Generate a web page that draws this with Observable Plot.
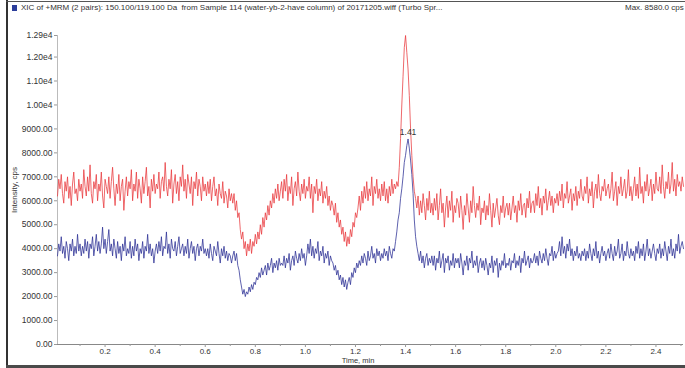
<!DOCTYPE html>
<html>
<head>
<meta charset="utf-8">
<script src="https://cdn.jsdelivr.net/npm/d3@7"></script>
<script src="https://cdn.jsdelivr.net/npm/@observablehq/plot@0.6"></script>
<style>
  body { margin: 0; background: #fff; }
  #wrap { position: relative; width: 685px; height: 368px; overflow: hidden; background: #fff;
          font-family: "Liberation Sans", Arial, sans-serif; color: #333; }
  .abs { position: absolute; white-space: nowrap; }
</style>
</head>
<body>
<div id="wrap">
  <div class="abs" style="left:6px;top:0;width:1.5px;height:368px;background:#333"></div>
  <div class="abs" style="left:6px;top:1px;width:679px;height:1px;background:#555"></div>
  <div class="abs" style="left:6px;top:365px;width:679px;height:3px;background:#4a4a4a"></div>
  <div class="abs" style="left:12px;top:5px;width:5px;height:6px;background:#2c3e9b"></div>
  <div class="abs" id="title" style="left:21px;top:3px;font-size:8px;line-height:10px"></div>
  <div class="abs" id="maxlab" style="left:625px;top:3px;font-size:8px;line-height:10px"></div>
  <div class="abs" id="ylab" style="left:14px;top:190px;font-size:8px;transform:translate(-50%,-50%) rotate(-90deg)"></div>
  <div class="abs" id="xlab" style="left:358px;top:357px;font-size:7.5px;line-height:8px;transform:translateX(-50%)"></div>
  <div id="chart" class="abs" style="left:0;top:0"></div>
</div>
<script>
const titleText = "XIC of +MRM (2 pairs): 150.100/119.100 Da\u00a0\u00a0from Sample 114 (water-yb-2-have column) of 20171205.wiff (Turbo Spr...";
const maxText = "Max. 8580.0 cps";
const yTitle = "Intensity, cps";
const xTitle = "Time, min";

const startTime = 0.01;   // min
const scanStep = 0.005;   // min between points

const redSeries = [
6200,6900,6500,7100,6300,5900,6800,6400,7000,6100,6600,5800,6700,7200,6300,6500,6000,6900,6400,6700,
6100,7300,6600,6200,7000,6400,7500,6300,5900,6800,6500,7100,6000,6700,6400,7200,6200,5700,6900,6600,
6300,7000,6100,6800,7400,6500,5800,6700,6300,7100,6000,6600,6900,5600,6400,7000,6200,6800,6500,7300,
6000,6700,6400,7200,6100,6900,6500,5900,7000,6300,6800,7400,6200,6600,5700,6900,6400,7100,6300,6700,
6500,7200,6100,6800,7000,6400,7600,6600,6200,6900,6500,7300,5900,6700,7100,6300,6800,6000,7000,6600,
7500,6400,6900,6100,7100,6700,6300,7000,5800,6800,6500,7200,6200,6900,6600,6000,7000,6400,6700,6200,
6800,6300,6900,6000,6600,7000,6200,6500,5800,6700,6300,6100,6800,5900,6400,6200,5700,6500,6000,6300,
5900,6300,5600,6000,5300,5500,4800,4400,4700,4000,4300,3700,4200,3900,4400,3800,4300,4100,4600,4200,
4700,4400,5000,4600,5300,4900,5500,5200,5800,5400,6000,5700,6300,5900,6500,6100,6700,6000,6400,6800,
6100,6900,6400,7100,6000,6600,6300,7000,5800,6500,6800,6200,7200,6400,6000,6700,6300,6900,6100,6600,
6400,7000,6100,6700,5500,6600,6300,6900,6000,6500,6200,6800,5900,6400,6100,6600,5800,6200,5600,6000,
5800,5400,5900,5100,5500,4900,5200,4600,4900,4300,4700,4100,4500,4200,4800,4500,5100,4900,5500,5300,
5700,6200,5600,6400,5900,6600,6100,6800,6000,6500,6200,7000,5800,6600,6300,6900,6100,6500,6000,6700,
6200,6800,6000,6500,5900,6600,6200,6900,6300,6700,6500,6800,6600,7400,8600,10000,11200,12400,12900,12200,
11500,10400,9000,7900,7000,6400,6100,5700,6200,5400,6000,5500,6300,5800,5200,6100,5600,6400,5500,5900,
5400,6100,5600,6300,5200,5800,6500,5500,5900,4900,5700,6200,5300,6000,5600,6400,5100,5800,5500,6100,
5900,5300,6200,5600,4800,5800,5400,6300,5700,5100,6000,5500,6600,5800,5300,5900,5600,6200,5000,5700,
5500,6000,5200,5800,5400,6300,5600,4900,5900,5300,5700,6100,5400,5000,5800,5500,6200,5300,5700,5900,
5400,5900,5200,5700,6200,5500,5800,5100,6000,5600,6300,5400,5800,5900,5300,6100,5700,6400,5500,5900,
6000,5500,6300,5800,6600,5700,6100,5400,6200,5900,6500,5600,6000,6400,5800,6200,5500,6100,5900,6300,
5800,6400,6000,6700,5700,6300,6100,6800,5900,6200,6500,5600,6300,6000,6600,5800,6400,6100,6900,6200,
6000,6600,6300,7000,5900,6500,6200,6800,5700,6400,6700,6100,7100,6300,6000,6600,6400,6900,6200,6500,
6700,6100,6500,7200,6000,6400,6800,5800,6600,6300,7000,6200,6500,6900,6100,6400,7300,6200,6600,6000,
6500,7000,6200,6700,6100,7400,6300,6600,5900,6800,6400,7100,6200,6500,6900,6000,6700,6300,7200,6500,
6400,7000,6300,7500,6600,6100,6800,6500,7200,6300,6700,7600,6400,6900,6200,7100,6600,6800,6400,7000,
6600
];

const blueSeries = [
3700,4200,3900,4500,3800,4100,3600,4300,4000,3500,4200,3900,4400,3700,4100,3800,4600,3900,4200,3700,
4100,3800,4400,3900,4300,3600,4200,4000,4500,3700,4100,4600,3900,4300,3800,4200,4900,4000,4400,3800,
4300,4800,3900,4200,3700,4400,4000,3600,4300,3800,4100,3500,4200,3900,4500,3700,4000,3800,4300,3600,
4100,3700,4400,3900,4200,3500,4000,3800,4300,3600,4100,3900,4600,3800,4200,3700,4000,3400,3900,4200,
3800,4300,3900,4500,3700,4100,4000,4700,3800,4200,3600,4400,4000,3900,4300,3700,4100,4500,3800,4000,
4200,3700,4100,3800,4400,3600,4000,4300,3800,4100,3500,4000,4200,3700,4100,3900,4400,3800,4000,3700,
4000,3600,4200,3800,3500,4100,3900,3700,4300,3800,3400,4000,3700,4100,3600,3900,3500,3800,3700,3400,
3700,3900,3500,3800,3300,3100,2700,2400,2100,2300,2000,2200,2100,2400,2200,2500,2300,2600,2500,2800,
2700,3000,2800,3200,2900,3100,3300,2900,3400,3100,3300,3600,3000,3400,3200,3500,3100,3600,3300,3400,
3300,3700,3200,3600,3400,3800,3100,3500,3700,3300,3900,3600,3400,3800,3500,4000,3600,3800,3300,3700,
4200,3800,4400,3700,4100,3600,4000,3800,4300,3500,3900,3700,4100,3400,3800,3600,3900,3300,3700,3500,
3400,3100,3300,2900,3100,2700,2900,2500,2800,2400,2700,2300,2600,2800,2500,3000,2800,3200,3000,3400,
3200,3500,3300,3700,3400,3800,3600,3300,3900,3500,3700,4100,3600,3800,3400,4000,3700,3900,3500,3800,
3600,4000,3700,3900,3500,4100,3800,3600,4000,3900,4300,4700,5200,5500,6100,6500,7000,7600,7900,8300,
8580,8200,7700,7100,6300,5200,4500,4100,3800,3500,3900,3400,3700,3200,3600,3800,3300,3600,3400,3700,
3300,3700,3100,3600,3400,3900,3200,3500,3800,3000,3600,3400,3700,3100,3500,3300,3800,3200,3600,3400,
3600,3200,3800,3400,2900,3500,3300,3700,3100,3600,3400,3900,3200,3500,3300,3700,3000,3400,3600,3200,
3500,3100,3600,3300,2900,3400,3200,3700,3000,3500,3300,3600,2800,3400,3100,3500,3300,3800,3200,3400,
3300,3600,3100,3500,3400,3800,3200,3500,3300,3700,3000,3600,3400,3900,3300,3500,3700,3200,3600,3400,
3500,3800,3400,3700,3300,3900,3600,3400,3800,3500,4000,3600,3300,3800,3700,4100,3500,3900,3600,3800,
3900,4300,3700,4500,3800,4100,3600,4200,3900,4400,3700,4000,3500,3900,3700,4100,3600,3800,3500,3900,
3700,4000,3500,3900,3600,4200,3800,3500,4000,3700,4300,3600,3900,3400,3800,4100,3700,3900,3500,3800,
4000,3600,4200,3800,3500,4100,3700,3900,4400,3600,3800,4200,3500,3900,3700,4300,3800,3600,4000,3700,
3900,3500,4100,3800,4300,3600,4000,3700,4200,3500,3900,4400,3700,4000,3600,3900,4200,3800,3500,4000,
3800,4200,3600,4000,3700,4300,3900,3500,4100,3800,4400,3700,4000,3600,4200,3900,4600,3800,4100,4300,
4000
];

const yTickValues = [0,1000,2000,3000,4000,5000,6000,7000,8000,9000,10000,11000,12000,12900];
const xTickValues = [0.2,0.4,0.6,0.8,1.0,1.2,1.4,1.6,1.8,2.0,2.2,2.4];
const xMinorTicks = [0.1,0.3,0.5,0.7,0.9,1.1,1.3,1.5,1.7,1.9,2.1,2.3,2.5];
const peakLabels = [{time: 1.41, value: 8580, text: "1.41"}];
const xDomain = [0.01, 2.51];
const yDomain = [0, 12900];

document.getElementById("title").textContent = titleText;
document.getElementById("maxlab").textContent = maxText;
document.getElementById("ylab").textContent = yTitle;
document.getElementById("xlab").textContent = xTitle;

const toRows = (arr) => arr.map((v, i) => ({time: +(startTime + i * scanStep).toFixed(4), value: v}));
const redRows = toRows(redSeries);
const blueRows = toRows(blueSeries);

const yFmt = (v) => v >= 10000 ? (v / 10000).toFixed(2) + "e4" : v.toFixed(2);

const chart = Plot.plot({
  width: 685,
  height: 368,
  marginLeft: 57,
  marginRight: 2,
  marginTop: 35,
  marginBottom: 24,
  style: {fontFamily: "'Liberation Sans', Arial, sans-serif", fontSize: "8.5px", color: "#333", background: "transparent"},
  x: {domain: xDomain},
  y: {domain: yDomain},
  marks: [
    Plot.ruleX([xDomain[0]], {stroke: "#bbb", strokeWidth: 1}),
    Plot.ruleY([0], {stroke: "#888", strokeWidth: 1}),
    Plot.axisY({ticks: yTickValues, tickFormat: yFmt, tickSize: 3, tickPadding: 2, label: null, stroke: "#999"}),
    Plot.axisX({ticks: xTickValues, tickFormat: (d) => d.toFixed(1), tickSize: 3, tickPadding: 1, fontSize: 8, label: null, stroke: "#999"}),
    Plot.axisX({ticks: xMinorTicks, tickFormat: () => "", tickSize: 2, label: null, stroke: "#999"}),
    Plot.line(redRows, {x: "time", y: "value", stroke: "#e8383d", strokeWidth: 0.9, strokeOpacity: 0.85}),
    Plot.line(blueRows, {x: "time", y: "value", stroke: "#2b2f94", strokeWidth: 0.9, strokeOpacity: 0.85}),
    Plot.text(peakLabels, {x: "time", y: "value", text: "text", dy: -7, fill: "#333", fontSize: 8.5})
  ]
});
document.getElementById("chart").appendChild(chart);
</script>
</body>
</html>
